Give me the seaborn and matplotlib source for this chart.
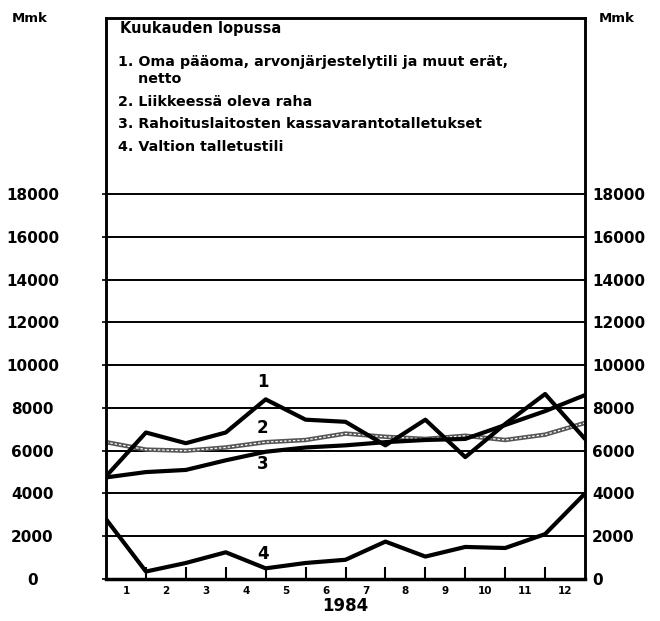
import numpy as np
import pandas as pd
import seaborn as sns
import matplotlib.pyplot as plt

# month-end positions (0 = end of Dec 1983)
months = list(range(13))
month_labels = [str(m) for m in range(1, 13)]

oma_paaoma = [4800, 6850, 6350, 6850, 8400, 7450, 7350, 6250, 7450, 5700, 7250, 8650, 6550]
liikkeessa = [6400, 6050, 6000, 6150, 6400, 6500, 6800, 6650, 6550, 6700, 6500, 6750, 7300]
kassavaranto = [4750, 5000, 5100, 5550, 5950, 6150, 6250, 6400, 6500, 6550, 7200, 7850, 8600]
valtion = [2800, 350, 750, 1250, 500, 750, 900, 1750, 1050, 1500, 1450, 2100, 4000]

y_ticks = [0, 2000, 4000, 6000, 8000, 10000, 12000, 14000, 16000, 18000]
y_ticklabels = ['0', '2000', '4000', '6000', '8000', '10000', '12000', '14000', '16000', '18000']

legend_title = 'Kuukauden lopussa'
legend_lines = ['1. Oma pääoma, arvonjärjestelytili ja muut erät,',
                '    netto',
                '2. Liikkeessä oleva raha',
                '3. Rahoituslaitosten kassavarantotalletukset',
                '4. Valtion talletustili']

sns.set_style('white')
plt.rcParams['font.family'] = ['DejaVu Sans']
plt.rcParams['text.color'] = 'black'
plt.rcParams['xtick.color'] = 'black'
plt.rcParams['ytick.color'] = 'black'
plt.rcParams['axes.labelcolor'] = 'black'

fig = plt.figure(figsize=(6.6, 6.21), dpi=100)
ax = fig.add_axes([0.1606, 0.0676, 0.7258, 0.9034])

df = pd.DataFrame({'month': months, 'oma': oma_paaoma, 'raha': liikkeessa,
                   'kassa': kassavaranto, 'valtio': valtion})

# gridlines
for v in y_ticks[1:]:
    ax.axhline(v, color='black', lw=1.4, zorder=1)

sns.lineplot(data=df, x='month', y='raha', ax=ax, color='#555555', lw=3.2, zorder=2)
sns.lineplot(data=df, x='month', y='raha', ax=ax, color='white', lw=0.9,
             linestyle=(0, (2, 1.5)), zorder=2)
sns.lineplot(data=df, x='month', y='kassa', ax=ax, color='black', lw=3, zorder=3)
sns.lineplot(data=df, x='month', y='oma', ax=ax, color='black', lw=3, zorder=3)
sns.lineplot(data=df, x='month', y='valtio', ax=ax, color='black', lw=3, zorder=3)

# series numbers
for num, yv in [('1', 9200), ('2', 7050), ('3', 5380), ('4', 1170)]:
    ax.text(3.93, yv, num, ha='center', va='center', fontsize=12, fontweight='bold')

ax.set_xlim(0, 12)
ax.set_ylim(0, 26230)

ax.set_xticks(range(1, 12))
ax.set_xticklabels([])
ax.tick_params(axis='x', which='major', direction='in', length=9, width=1.5, bottom=True)
ax.set_xticks(np.arange(0.5, 12, 1), minor=True)
ax.set_xticklabels(month_labels, minor=True, fontsize=7.5, fontweight='bold')
ax.tick_params(axis='x', which='minor', length=0, pad=5)
ax.set_xlabel('1984', fontsize=12, fontweight='bold', labelpad=1)

ax.set_yticks(y_ticks)
ax.set_yticklabels(y_ticklabels, fontsize=11, fontweight='bold')
for lab in ax.get_yticklabels():
    lab.set_ha('center')
ax.tick_params(axis='y', length=3, width=1.2, pad=50, left=True)

ax2 = ax.twinx()
ax2.set_ylim(ax.get_ylim())
ax2.set_yticks(y_ticks)
ax2.set_yticklabels(y_ticklabels, fontsize=11, fontweight='bold')
ax2.tick_params(axis='y', length=0, pad=5)
ax2.set_ylabel('')
ax.set_ylabel('')

for a in (ax, ax2):
    for s in a.spines.values():
        s.set_visible(True)
        s.set_color('black')
        s.set_linewidth(1.8)
ax.spines['bottom'].set_linewidth(2.5)

fig.text(0.045, 0.971, 'Mmk', ha='center', va='center', fontsize=9.5, fontweight='bold')
fig.text(0.935, 0.971, 'Mmk', ha='center', va='center', fontsize=9.5, fontweight='bold')

# legend text inside top of frame
ax.text(0.03, 0.982, legend_title, transform=ax.transAxes, ha='left', va='center',
        fontsize=10.5, fontweight='semibold')
ys = [0.922, 0.891, 0.850, 0.811, 0.770]
for t, yy in zip(legend_lines, ys):
    ax.text(0.025, yy, t, transform=ax.transAxes, ha='left', va='center',
            fontsize=10.3, fontweight='semibold')

fig.savefig('out.png', dpi=100)
